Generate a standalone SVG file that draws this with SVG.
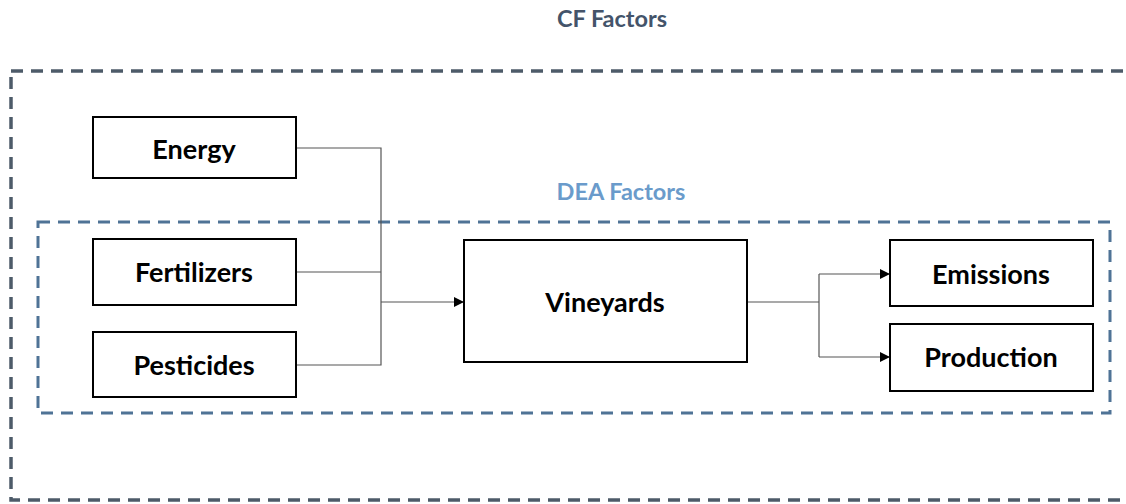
<svg xmlns="http://www.w3.org/2000/svg" width="1126" height="504" viewBox="0 0 1126 504">
<defs>
<marker id="arr" viewBox="0 0 10 10" refX="10" refY="5" markerWidth="10" markerHeight="10" markerUnits="userSpaceOnUse" orient="auto">
<path d="M0,0 L10,5 L0,10 z" fill="#000"/>
</marker>
</defs>
<style>
.box{fill:#fff;stroke:#000;stroke-width:2}
.lbl{font-family:Lato,"Open Sans",sans-serif;font-weight:bold;font-size:27px;fill:#000;text-anchor:middle;dominant-baseline:central}
.conn{fill:none;stroke:#555;stroke-width:1.2}
.title{font-family:Lato,"Open Sans",sans-serif;font-weight:bold;font-size:23.5px;text-anchor:middle;dominant-baseline:central}
</style>
<rect width="1126" height="504" fill="#fff"/>
<g id="cf-frame">
<rect x="11" y="71" width="1130" height="429" fill="none" stroke="#4d5b69" stroke-width="3.5" stroke-dasharray="12,8"/>
<text class="title" x="612" y="18" fill="#44546a">CF Factors</text>
</g>
<g id="dea-frame">
<rect x="38" y="222" width="1072" height="191" fill="none" stroke="#4f7396" stroke-width="3" stroke-dasharray="12,8"/>
<text class="title" x="621" y="191" fill="#6a9bcb">DEA Factors</text>
</g>
<g id="connectors">
<path class="conn" d="M296,148 H381 V365 H296"/>
<path class="conn" d="M296,272 H381"/>
<path class="conn" d="M381,302 H464" stroke="#000" marker-end="url(#arr)"/>
<path class="conn" d="M747,302 H819"/>
<path class="conn" d="M819,274 V357"/>
<path class="conn" d="M819,274 H890" stroke="#000" marker-end="url(#arr)"/>
<path class="conn" d="M819,357 H890" stroke="#000" marker-end="url(#arr)"/>
</g>
<g id="energy"><rect class="box" x="93" y="117" width="203" height="61"/><text class="lbl" x="194" y="148">Energy</text></g>
<g id="fertilizers"><rect class="box" x="93" y="239" width="203" height="66"/><text class="lbl" x="194" y="271">Fertilizers</text></g>
<g id="pesticides"><rect class="box" x="93" y="332" width="203" height="65"/><text class="lbl" x="194" y="364">Pesticides</text></g>
<g id="vineyards"><rect class="box" x="464" y="240" width="283" height="122"/><text class="lbl" x="605" y="301">Vineyards</text></g>
<g id="emissions"><rect class="box" x="890" y="240" width="203" height="66"/><text class="lbl" x="991" y="273">Emissions</text></g>
<g id="production"><rect class="box" x="890" y="324" width="203" height="67"/><text class="lbl" x="991" y="356">Production</text></g>
</svg>
